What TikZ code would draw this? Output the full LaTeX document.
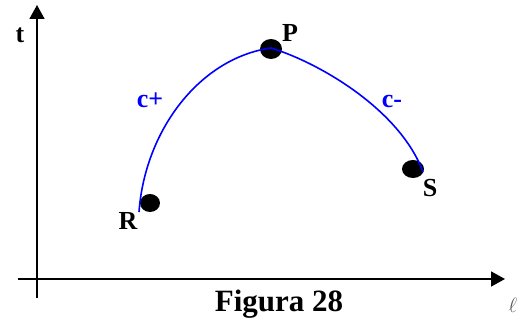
\documentclass[tikz,border=0pt]{standalone}
\usepackage{fontspec}
\setmainfont{Liberation Serif}
\usetikzlibrary{arrows.meta,shapes.geometric}
\definecolor{cblue}{RGB}{0,0,255}
\definecolor{ellgrey}{RGB}{90,90,90}
\tikzset{
  axis/.style={line width=1.8pt,-{Triangle[length=14pt,width=15pt]}},
  dot/.style={ellipse,fill=black,minimum width=20pt,minimum height=18pt,inner sep=0pt},
  lbl/.style={anchor=base,font=\bfseries\fontsize{26}{30}\selectfont,inner sep=0pt},
  clbl/.style={lbl,text=cblue},
  curve/.style={cblue,line width=1.6pt}
}
\begin{document}
\begin{tikzpicture}[x=1pt,y=-1pt]
\useasboundingbox (0,0) rectangle (520,320);
\coordinate (vb) at (37,298);
\coordinate (vt) at (37,5);
\coordinate (hl) at (18,279);
\coordinate (hr) at (505,279);
\draw[axis] (vb) -- (vt);
\draw[axis] (hl) -- (hr);
\node[dot] (Rd) at (150,203) {};
\node[dot,minimum width=22pt,minimum height=20pt] (Pd) at (271,49) {};
\node[dot,minimum width=22pt] (Sd) at (413,169) {};
\coordinate (r0) at (139,212);
\coordinate (p0) at (271,48);
\coordinate (s0) at (423,172);
\draw[curve] (r0) .. controls (145,130) and (200,58) .. (p0)
             .. controls (320,63) and (400,110) .. (s0);
\node[lbl] (t) at (20,43) {t};
\node[lbl] (P) at (290,42) {P};
\node[lbl] (R) at (128,230) {R};
\node[lbl] (S) at (430,197) {S};
\node[clbl] (cp) at (150,108) {c+};
\node[clbl] (cm) at (392,108) {c-};
\node[lbl,font=\bfseries\fontsize{31}{35}\selectfont] (fig) at (279,312) {Figura 28};
\node[anchor=base,inner sep=0pt,text=ellgrey,font=\fontsize{22}{26}\selectfont] (ell) at (513,313) {$\ell$};
\end{tikzpicture}
\end{document}
